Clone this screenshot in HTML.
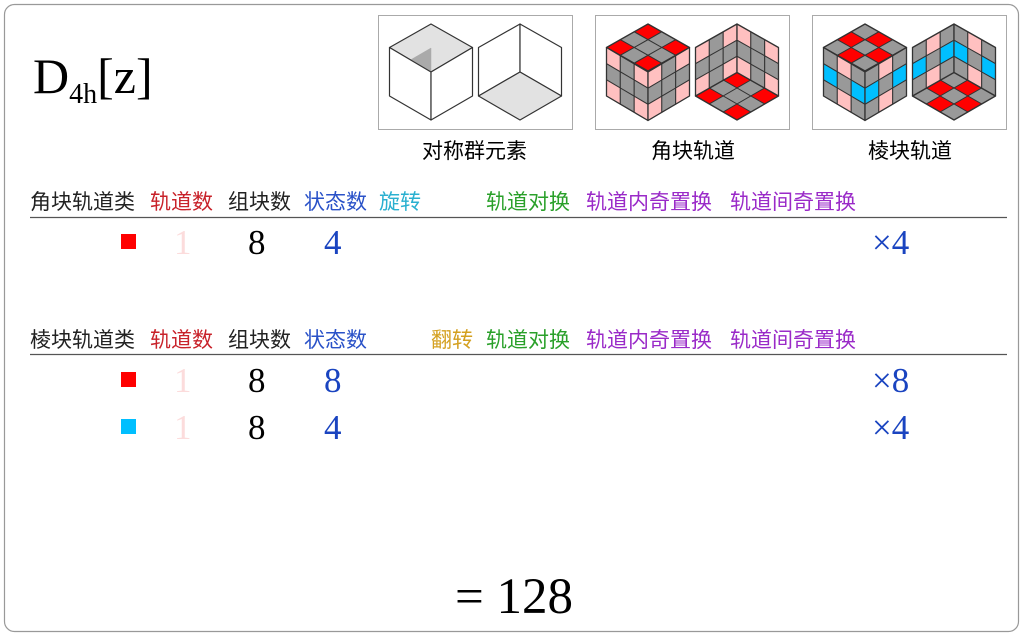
<!DOCTYPE html>
<html><head><meta charset="utf-8">
<style>
html,body{margin:0;padding:0;background:#fff;}
svg{display:block;}
.h{font-family:"Liberation Sans","Noto Sans CJK SC",sans-serif;font-size:21px;}
.n{font-family:"Liberation Serif","Noto Serif CJK SC",serif;font-size:35px;}
</style></head><body>
<svg id="s" width="1024" height="637" viewBox="0 0 1024 637" xmlns="http://www.w3.org/2000/svg">
<rect x="4.5" y="4.5" width="1014" height="627" rx="10" fill="#fff" stroke="#999" stroke-width="1.2"/>
<text x="33" y="93" font-family="Liberation Serif,serif" font-size="50">D<tspan font-size="28" dy="10">4h</tspan><tspan dy="-10">[z]</tspan></text>
<rect x="378.5" y="15.5" width="194" height="114" fill="#fff" stroke="#aaa"/>
<rect x="595.5" y="15.5" width="194" height="114" fill="#fff" stroke="#aaa"/>
<rect x="812.5" y="15.5" width="194" height="114" fill="#fff" stroke="#aaa"/>
<g id="cubes"></g>
<g class="h">
<text x="422" y="158">对称群元素</text>
<text x="651" y="158">角块轨道</text>
<text x="868" y="158">棱块轨道</text>
<text x="30" y="209" fill="#222">角块轨道类</text>
<text x="150" y="209" fill="#c8222a">轨道数</text>
<text x="228" y="209" fill="#222">组块数</text>
<text x="304" y="209" fill="#2a52c8">状态数</text>
<text x="379" y="209" fill="#2ab0d0">旋转</text>
<text x="486" y="209" fill="#2aa02a">轨道对换</text>
<text x="586" y="209" fill="#9a2ac8">轨道内奇置换</text>
<text x="730" y="209" fill="#9a2ac8">轨道间奇置换</text>
<text x="30" y="347" fill="#222">棱块轨道类</text>
<text x="150" y="347" fill="#c8222a">轨道数</text>
<text x="228" y="347" fill="#222">组块数</text>
<text x="304" y="347" fill="#2a52c8">状态数</text>
<text x="431" y="347" fill="#d4a020">翻转</text>
<text x="486" y="347" fill="#2aa02a">轨道对换</text>
<text x="586" y="347" fill="#9a2ac8">轨道内奇置换</text>
<text x="730" y="347" fill="#9a2ac8">轨道间奇置换</text>
</g>
<line x1="30" y1="217.5" x2="1007" y2="217.5" stroke="#555" stroke-width="1.2"/>
<line x1="30" y1="354.5" x2="1007" y2="354.5" stroke="#555" stroke-width="1.2"/>
<rect x="121" y="234" width="15" height="15" fill="#f00"/>
<rect x="121" y="372" width="15" height="15" fill="#f00"/>
<rect x="121" y="419" width="15" height="15" fill="#00bfff"/>
<g class="n">
<text x="174" y="254" fill="#fcdcdc">1</text>
<text x="248" y="254">8</text>
<text x="324" y="254" fill="#1a44c0">4</text>
<text x="872" y="254" fill="#1a44c0">×4</text>
<text x="174" y="392" fill="#fcdcdc">1</text>
<text x="248" y="392">8</text>
<text x="324" y="392" fill="#1a44c0">8</text>
<text x="872" y="392" fill="#1a44c0">×8</text>
<text x="174" y="439" fill="#fcdcdc">1</text>
<text x="248" y="439">8</text>
<text x="324" y="439" fill="#1a44c0">4</text>
<text x="872" y="439" fill="#1a44c0">×4</text>
</g>
<text x="455" y="613" font-family="Liberation Serif,serif" font-size="51">= 128</text>
</svg>
<script>
var g=document.getElementById('cubes'),NS='http://www.w3.org/2000/svg';
function poly(pts,fill,sw,st){var p=document.createElementNS(NS,'polygon');p.setAttribute('points',pts.map(function(a){return a[0].toFixed(1)+','+a[1].toFixed(1)}).join(' '));p.setAttribute('fill',fill);p.setAttribute('stroke',st||'#333');p.setAttribute('stroke-width',sw||1);p.setAttribute('stroke-linejoin','round');g.appendChild(p);}
var w=41.5,T=24,M=47.5,C=72,LL=96,B=120;
function face(o,u,v,cols){
 for(var i=0;i<3;i++)for(var j=0;j<3;j++){
  var f=function(a,b){return [o[0]+u[0]*a/3+v[0]*b/3,o[1]+u[1]*a/3+v[1]*b/3]};
  poly([f(j,i),f(j+1,i),f(j+1,i+1),f(j,i+1)],cols[i][j],1,'#333');
 }
 poly([o,[o[0]+u[0],o[1]+u[1]],[o[0]+u[0]+v[0],o[1]+u[1]+v[1]],[o[0]+v[0],o[1]+v[1]]],'none',1.3,'#333');
}
var Gr='#999',R='#f00',P='#ffc0c0',Bl='#00bfff';
function pat(c,e,m,e2){e2=e2||e;return [[c,e,c],[e2,m,e2],[c,e,c]];}
function outer(cx,top,side){
 face([cx,T],[-w,M-T],[w,M-T],top);
 face([cx-w,M],[w,C-M],[0,LL-M],side);
 face([cx,C],[w,M-C],[0,LL-M],side);
}
function inner(cx,floor,wall){
 face([cx,C],[-w,LL-C],[w,LL-C],floor);
 face([cx-w,M],[w,T-M],[0,LL-M],wall);
 face([cx,T],[w,M-T],[0,LL-M],wall);
}
var L1=431,R1=520;
poly([[L1,T],[L1-w,M],[L1,C],[L1+w,M]],'#e2e2e2',1.2,'#333');
poly([[L1,C],[L1-w*0.5,C-12],[L1,C-24]],'#aaa',0.5,'#aaa');
poly([[L1-w,M],[L1,C],[L1,B],[L1-w,LL]],'#fff',1.2,'#333');
poly([[L1,C],[L1+w,M],[L1+w,LL],[L1,B]],'#fff',1.2,'#333');
poly([[R1,T],[R1-w,M],[R1-w,LL],[R1,C]],'#fff',1.2,'#333');
poly([[R1,T],[R1+w,M],[R1+w,LL],[R1,C]],'#fff',1.2,'#333');
poly([[R1,C],[R1-w,LL],[R1,B],[R1+w,LL]],'#e2e2e2',1.2,'#333');
outer(648,pat(R,Gr,Gr),pat(P,Gr,Gr));
inner(737,pat(R,Gr,Gr),pat(P,Gr,Gr));
outer(865,pat(Gr,R,Gr),pat(Gr,P,Gr,Bl));
inner(954,pat(Gr,R,Gr),pat(Gr,P,Gr,Bl));
</script>
</body></html>
